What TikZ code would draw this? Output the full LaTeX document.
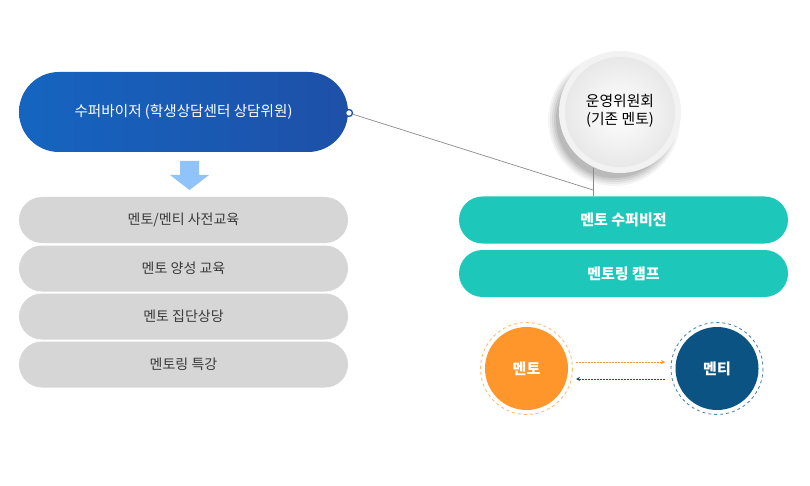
\documentclass[tikz,border=0pt]{standalone}
\usepackage{fontspec}
\setmainfont{Noto Sans CJK KR}
\usetikzlibrary{arrows.meta,shapes.misc}
\definecolor{supblue}{HTML}{1565C0}
\definecolor{supblue2}{HTML}{1E50A8}
\definecolor{arrowblue}{HTML}{8FC3FA}
\definecolor{pillgray}{HTML}{D6D6D6}
\definecolor{txtgray}{HTML}{3A3A3A}
\definecolor{teal}{HTML}{1DC8BB}
\definecolor{mentor}{HTML}{FF962B}
\definecolor{mentee}{HTML}{0A5382}
\definecolor{linegray}{HTML}{8A8A8A}
\begin{document}
\begin{tikzpicture}[x=1pt,y=-1pt,
  pill/.style={rounded rectangle, minimum width=329pt, inner sep=0pt},
  graypill/.style={pill, fill=pillgray, minimum height=46pt, text=txtgray, font=\fontsize{14}{16}\selectfont},
  tealpill/.style={pill, fill=teal, minimum height=47pt, text=white, font=\fontsize{15}{17}\selectfont\bfseries},
  person/.style={circle, minimum size=83pt, inner sep=0pt, text=white, font=\fontsize{15}{17}\selectfont\bfseries},
  flow/.style={line width=0.8pt, dash pattern=on 2pt off 1pt, -{Stealth[length=4pt,width=4pt]}}
]
\useasboundingbox[fill=white] (0,0) rectangle (810,486);

% supervisor pill
\node[pill, minimum height=80pt, left color=supblue, right color=supblue2, text=white,
      font=\fontsize{14.6}{17}\selectfont] (sup) at (183.5,112) {수퍼바이저 (학생상담센터 상담위원)};

% down arrow
\fill[arrowblue] (180,161) -- (199,161) -- (199,175) -- (209,175) -- (189.5,190) -- (170,175) -- (180,175) -- cycle;

% gray pills
\node[graypill] (g1) at (183.5,220) {멘토/멘티 사전교육};
\node[graypill] (g2) at (183.5,268.5) {멘토 양성 교육};
\node[graypill] (g3) at (183.5,316.5) {멘토 집단상당};
\node[graypill] (g4) at (183.5,364.5) {멘토링 특강};

% committee circle with soft shadow
\foreach \r/\o in {66/0.04,64/0.05,62/0.06,60/0.07,58/0.08}
  \fill[black, opacity=\o] (614,120) circle (\r);
\fill[gray!10] (620,112) circle (61);
\shade[inner color=white, outer color=gray!18] (620,112) circle (55);
\node[align=center, font=\fontsize{14.8}{18}\selectfont, inner sep=0pt] (ops) at (620,111) {운영위원회\\(기존 멘토)};

% teal pills
\node[tealpill] (mv) at (623.5,220) {멘토 수퍼비전};
\node[tealpill] (mc) at (623.5,273.5) {멘토링 캠프};

% connectors
\coordinate (j) at (593,190);
\coordinate (cb) at (593,168);
\node[circle, draw=supblue2, fill=white, line width=1.3pt, inner sep=0pt, minimum size=7pt] (sc) at (349,113) {};
\draw[linegray, line width=0.7pt] (sc) -- (j);
\draw[linegray, line width=0.7pt] (cb) -- (cb |- mv.north);

% mentor / mentee
\node[person, fill=mentor] (mt) at (526.5,368.5) {멘토};
\draw[mentor!70, dashed, line width=0.8pt] (mt.center) circle (46);
\node[person, fill=mentee] (me) at (717,368.5) {멘티};
\draw[mentee!75, dashed, line width=0.8pt] (me.center) circle (46);

\coordinate (a1s) at (576,362);
\coordinate (a1e) at (665,362);
\coordinate (a2s) at (665,379);
\coordinate (a2e) at (576,379);
\draw[flow, mentor] (a1s) -- (a1e);
\draw[flow, mentee] (a2s) -- (a2e);
\end{tikzpicture}
\end{document}
